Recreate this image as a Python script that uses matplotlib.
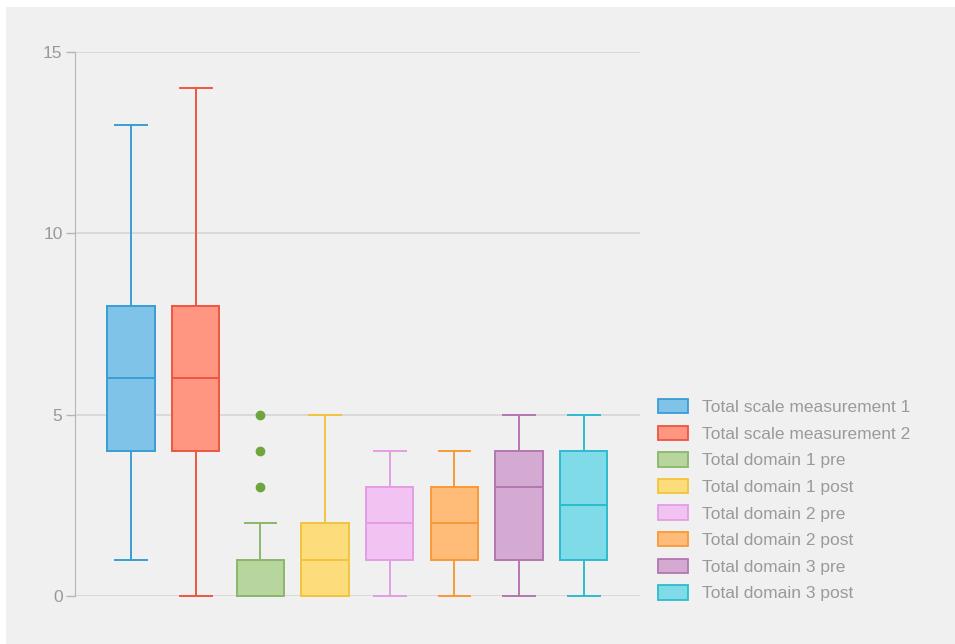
import matplotlib.pyplot as plt
from matplotlib.patches import Rectangle, Patch

labels = ['Total scale measurement 1', 'Total scale measurement 2',
          'Total domain 1 pre', 'Total domain 1 post',
          'Total domain 2 pre', 'Total domain 2 post',
          'Total domain 3 pre', 'Total domain 3 post']
whislo = [1, 0, 0, 0, 0, 0, 0, 0]
q1 = [4, 4, 0, 0, 1, 1, 1, 1]
med = [6, 6, 0, 1, 2, 2, 3, 2.5]
q3 = [8, 8, 1, 2, 3, 3, 4, 4]
whishi = [13, 14, 2, 5, 4, 4, 5, 5]
fliers = [[], [], [3, 4, 5], [], [], [], [], []]

fills = ['#7fc3e9', '#ff9682', '#b6d69e', '#fddc7c', '#f1c2f2', '#ffbc79', '#d5aad2', '#80dbe9']
edges = ['#3a9dd5', '#ee5640', '#8cb66c', '#f2c43c', '#e39de3', '#f79a36', '#b377b0', '#2cbccd']

fig = plt.figure(figsize=(9.55, 6.44), dpi=100, facecolor='white')
bg = Rectangle((6 / 955, 0), 1, 1 - 7 / 644, transform=fig.transFigure,
               facecolor='#f0f0f0', edgecolor='none', zorder=-10)
fig.add_artist(bg)

ax = fig.add_axes([75 / 955, 1 - 596 / 644, (640 - 75) / 955, (596 - 52) / 644])
ax.patch.set_visible(False)
ax.set_zorder(1)

stats = []
for i in range(len(labels)):
    stats.append(dict(whislo=whislo[i], q1=q1[i], med=med[i], q3=q3[i],
                      whishi=whishi[i], fliers=fliers[i], label=labels[i]))

positions = list(range(1, len(labels) + 1))
bp = ax.bxp(stats, positions=positions, widths=0.73, capwidths=0.49,
            patch_artist=True, showfliers=True)

for i in range(len(labels)):
    box = bp['boxes'][i]
    box.set_facecolor(fills[i])
    box.set_edgecolor(edges[i])
    box.set_linewidth(1.4)
    box.set_zorder(3)
    box.set_clip_on(False)
    bp['medians'][i].set_color(edges[i])
    bp['medians'][i].set_linewidth(1.4)
    bp['medians'][i].set_zorder(4)
    bp['medians'][i].set_clip_on(False)
    for j in (2 * i, 2 * i + 1):
        for part in ('whiskers', 'caps'):
            bp[part][j].set_color(edges[i])
            bp[part][j].set_linewidth(1.4)
            bp[part][j].set_zorder(3)
            bp[part][j].set_clip_on(False)
    fl = bp['fliers'][i]
    fl.set_marker('o')
    fl.set_markersize(6)
    fl.set_markerfacecolor('#6fa53f')
    fl.set_markeredgecolor('#6fa53f')

ax.set_xlim(0.134, 8.87)
ax.set_ylim(0, 15)
ax.set_yticks([0, 5, 10, 15])
ax.set_xticks([])
ax.yaxis.grid(True, color='#d3d3d3', linewidth=1.1, zorder=0)
ax.set_axisbelow(True)
for s in ('top', 'right', 'bottom'):
    ax.spines[s].set_visible(False)
ax.spines['left'].set_color('#b5b5b5')
ax.tick_params(axis='y', colors='#b5b5b5', length=6.5, width=1, labelcolor='#999999',
               labelsize=12.5, labelfontfamily='Liberation Sans', pad=2.5)

handles = [Patch(facecolor=fills[i], edgecolor=edges[i], linewidth=1.3) for i in range(len(labels))]
leg = fig.legend(handles, labels, loc='upper left', bbox_to_anchor=(658 / 955, 1 - 399 / 644),
                 frameon=False, borderpad=0, borderaxespad=0, handlelength=1.75,
                 handleheight=0.9, handletextpad=0.8, labelspacing=0.6,
                 prop={'family': 'Liberation Sans', 'size': 12.5})
for t in leg.get_texts():
    t.set_color('#9a9a9a')

fig.savefig('out.png', dpi=100, facecolor=fig.get_facecolor())
